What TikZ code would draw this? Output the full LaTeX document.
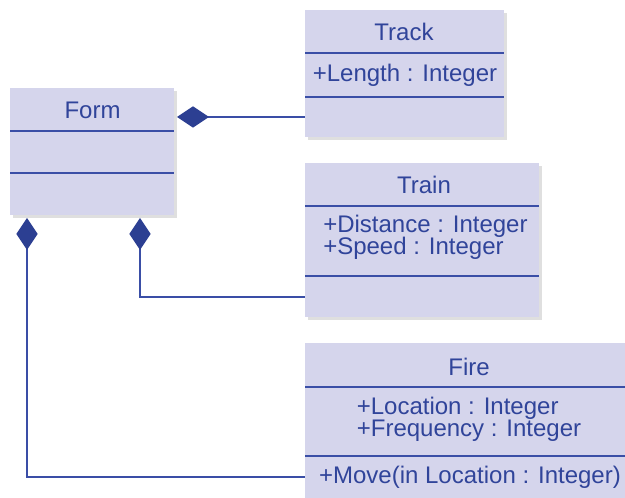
\documentclass[tikz,border=0pt]{standalone}
\usepackage{fontspec}
\setmainfont{Liberation Sans}
\usepackage{xcolor}
\usepackage{tikz}
\usetikzlibrary{arrows.meta,positioning,shadows}

\definecolor{umlfill}{HTML}{D5D5EC}
\definecolor{umlline}{HTML}{3A4EA6}
\definecolor{umltext}{HTML}{30449A}
\definecolor{umldiam}{HTML}{2C3F92}

\begin{document}
\begin{tikzpicture}[
    x=0.75pt, y=-0.75pt,
    classbox/.style={rectangle, fill=umlfill, anchor=north west, inner sep=0pt, outer sep=0pt, drop shadow={shadow xshift=2.5pt, shadow yshift=-2.5pt, opacity=0.25, fill=gray}},
    sepline/.style={draw=umlline, line width=2.2pt},
    label/.style={text=umltext, inner sep=0pt, font=\fontsize{18}{16.5}\selectfont},
    comp/.style={draw=umlline, line width=2.2pt, shorten <=2.25pt, {Diamond[length=24pt, width=16pt, fill=umldiam, color=umldiam]}-}
]
\useasboundingbox (0,0) rectangle (625,498);
\clip (0,0) rectangle (625,498);

% Form
\node[classbox, minimum width=123pt, minimum height=95.25pt] (form) at (10,88) {};
\node[label] (formtitle) at (92.5,110) {Form};
\draw[sepline] (form.west |- 0,131) -- (form.east |- 0,131);
\draw[sepline] (form.west |- 0,173) -- (form.east |- 0,173);

% Track
\node[classbox, minimum width=149.25pt, minimum height=95.25pt] (track) at (305,10) {};
\node[label] (tracktitle) at (404,32) {Track};
\draw[sepline] (track.west |- 0,53) -- (track.east |- 0,53);
\node[label] (tracklen) at (405,75) {+Length : Integer};
\draw[sepline] (track.west |- 0,97) -- (track.east |- 0,97);

% Train
\node[classbox, minimum width=175.5pt, minimum height=115.5pt] (train) at (305,163) {};
\node[label] (traintitle) at (424,185) {Train};
\draw[sepline] (train.west |- 0,206) -- (train.east |- 0,206);
\node[label, anchor=west] (traindist) at (323,226) {+Distance : Integer};
\node[label, anchor=west] (trainspeed) at (323,248) {+Speed : Integer};
\draw[sepline] (train.west |- 0,276) -- (train.east |- 0,276);

% Fire - runs off the right and bottom edge
\node[classbox, minimum width=246.75pt, minimum height=127.5pt] (fire) at (305,343) {};
\node[label] (firetitle) at (469,367) {Fire};
\draw[sepline] (fire.west |- 0,387) -- (fire.east |- 0,387);
\node[label, align=left] (fireattr) at (469,419) {+Location : Integer\\+Frequency : Integer};
\draw[sepline] (fire.west |- 0,456) -- (fire.east |- 0,456);
\node[label] (firemove) at (470,477) {+Move(in Location : Integer)};

% Compositions
\draw[comp] (form.east |- 0,117) -- (track.west |- 0,117);
\draw[comp] (form.south -| 140,0) |- (train.west |- 0,297);
\draw[comp] (form.south -| 27,0) |- (fire.west |- 0,477);

\end{tikzpicture}
\end{document}
